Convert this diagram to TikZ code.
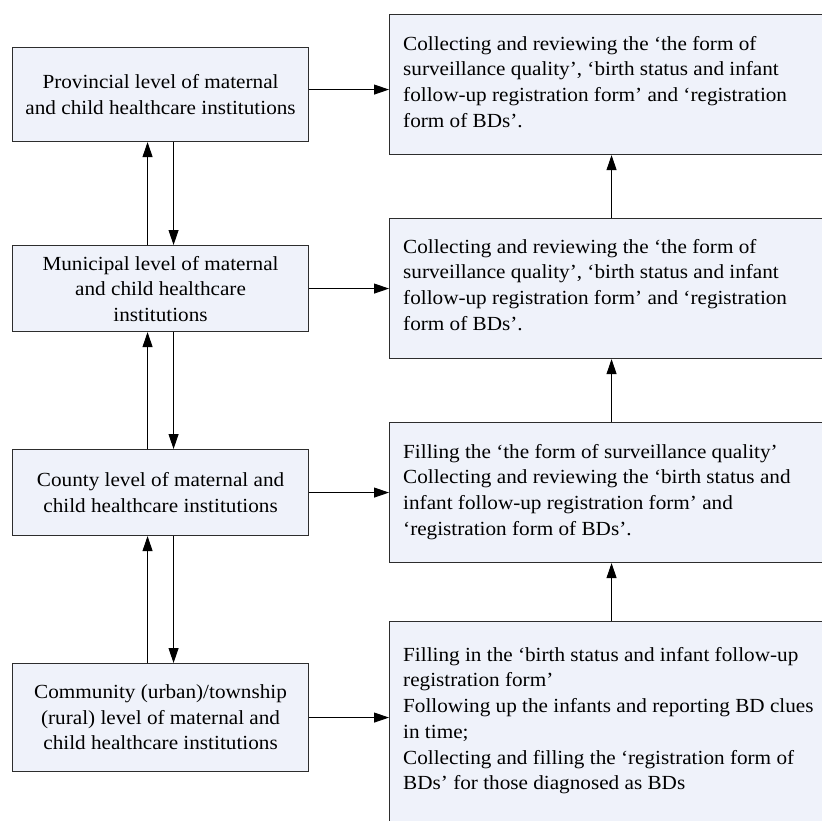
\documentclass[tikz,border=0pt]{standalone}
\usepackage{fontspec}
\setmainfont{Liberation Serif}[FakeStretch=1.06]
\usetikzlibrary{arrows.meta}
\definecolor{boxfill}{RGB}{239,242,250}
\definecolor{boxline}{RGB}{45,45,45}
\begin{document}
\begin{tikzpicture}[x=1pt,y=-1pt,
  lbox/.style={draw=boxline, fill=boxfill, line width=1.1pt, inner sep=0pt,
    minimum width=296pt, anchor=north west, align=center,
    font=\fontsize{20}{25.5}\selectfont},
  rbox/.style={draw=boxline, fill=boxfill, line width=1.1pt, inner sep=0pt,
    minimum width=444pt, anchor=north west},
  rtxt/.style={inner sep=0pt, anchor=north west, align=left,
    font=\fontsize{20}{25.7}\selectfont},
  arr/.style={-{Triangle[length=15pt,width=10pt]}, line width=0.9pt, draw=black}]
\useasboundingbox (0,0) rectangle (822,820);
\clip (0,0) rectangle (822,820);
% left column
\node[lbox, minimum height=94pt] (p) at (12,47)
  {Provincial level of maternal\\and child healthcare institutions};
\node[lbox, minimum height=86pt] (m) at (12,245)
  {Municipal level of maternal\\and child healthcare\\institutions};
\node[lbox, minimum height=86pt] (c) at (12,449)
  {County level of maternal and\\child healthcare institutions};
\node[lbox, minimum height=108pt] (t) at (12,663)
  {Community (urban)/township\\(rural) level of maternal and\\child healthcare institutions};
% right column
\node[rbox, minimum height=140pt] (r1) at (389,14) {};
\node[rbox, minimum height=140pt] (r2) at (389,218) {};
\node[rbox, minimum height=140pt] (r3) at (389,422) {};
\node[rbox, minimum height=240pt] (r4) at (389,621) {};
\node[rtxt] (t1) at (403,36)
  {Collecting and reviewing the ‘the form of\\surveillance quality’, ‘birth status and infant\\follow-up registration form’ and ‘registration\\form of BDs’.};
\node[rtxt] (t2) at (403,239)
  {Collecting and reviewing the ‘the form of\\surveillance quality’, ‘birth status and infant\\follow-up registration form’ and ‘registration\\form of BDs’.};
\node[rtxt] (t3) at (403,444)
  {Filling the ‘the form of surveillance quality’\\Collecting and reviewing the ‘birth status and\\infant follow-up registration form’ and\\‘registration form of BDs’.};
\node[rtxt] (t4) at (403,647)
  {Filling in the ‘birth status and infant follow-up\\registration form’\\Following up the infants and reporting BD clues\\in time;\\Collecting and filling the ‘registration form of\\BDs’ for those diagnosed as BDs};
% horizontal arrows
\draw[arr] ([yshift=5pt]p.east) -- ([yshift=5pt]p.east -| r1.west);
\draw[arr] (m.east) -- (m.east -| r2.west);
\draw[arr] (c.east) -- (c.east -| r3.west);
\draw[arr] (t.east) -- (t.east -| r4.west);
% vertical arrows left
\draw[arr] ([xshift=-13pt]m.north) -- ([xshift=-13pt]p.south);
\draw[arr] ([xshift=13pt]p.south) -- ([xshift=13pt]m.north);
\draw[arr] ([xshift=-13pt]c.north) -- ([xshift=-13pt]m.south);
\draw[arr] ([xshift=13pt]m.south) -- ([xshift=13pt]c.north);
\draw[arr] ([xshift=-13pt]t.north) -- ([xshift=-13pt]c.south);
\draw[arr] ([xshift=13pt]c.south) -- ([xshift=13pt]t.north);
% vertical arrows right
\draw[arr] (r2.north) -- (r1.south);
\draw[arr] (r3.north) -- (r2.south);
\draw[arr] (r4.north) -- (r3.south);
\end{tikzpicture}
\end{document}
